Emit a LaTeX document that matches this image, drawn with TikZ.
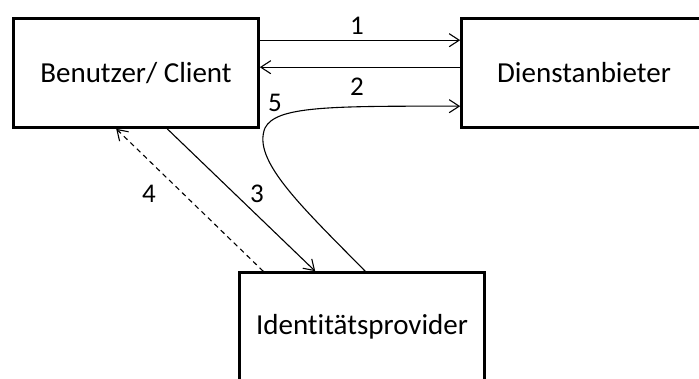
\documentclass[tikz,border=0pt]{standalone}
\usepackage{fontspec}
\setmainfont{Carlito}[Ligatures=NoCommon]
\usetikzlibrary{arrows.meta,calc}
\begin{document}
\begin{tikzpicture}[x=1pt,y=-1pt,
  boxstyle/.style={draw,line width=2.6pt,minimum width=245pt,minimum height=109pt,inner sep=0pt,outer sep=1.3pt,font=\fontsize{29}{33}\selectfont},
  conn/.style={line width=1.1pt,-{Straight Barb[length=10pt,width=13pt]}},
  lbl/.style={font=\fontsize{27}{31}\selectfont,inner sep=0pt}]
\useasboundingbox (0,0) rectangle (699,378);
\clip (0,0) rectangle (699,378);
\node[boxstyle] (b1) at (136,73) {Benutzer/ Client};
\node[boxstyle] (b2) at (584,73) {Dienstanbieter};
\node[boxstyle] (b3) at (362,327) {Identitätsprovider};
\draw[conn] ($(b1.north east)+(0,23)$) -- ($(b2.north west)+(0,23)$);
\draw[conn] ($(b2.north west)+(0,50)$) -- ($(b1.north east)+(0,50)$);
\draw[conn] ($(b1.south west)+(155,0)$) -- ($(b3.north west)+(77,0)$);
\draw[conn,dashed,dash pattern=on 5pt off 4pt] ($(b3.north west)+(25,0)$) -- ($(b1.south west)+(104,0)$);
\draw[conn] ($(b3.north west)+(127,0)$) .. controls (300,205) and (252,160) .. (265,128)
  .. controls (276,106) and (330,106) .. ($(b2.north west)+(0,89)$);
\node[lbl] (l1) at (357,26) {1};
\node[lbl] (l2) at (357,87) {2};
\node[lbl] (l5) at (275,103) {5};
\node[lbl] (l3) at (257,194) {3};
\node[lbl] (l4) at (149,194) {4};
\end{tikzpicture}
\end{document}
